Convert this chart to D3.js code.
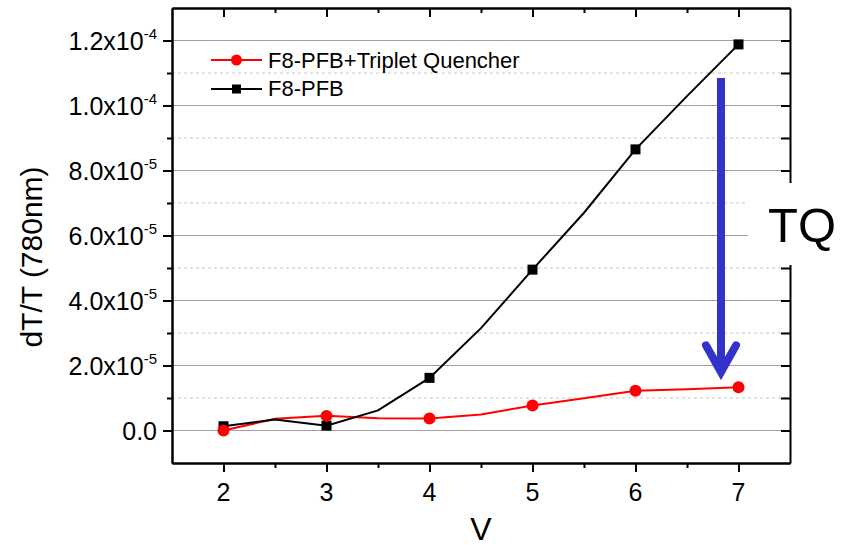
<!DOCTYPE html>
<html>
<head>
<meta charset="utf-8">
<script src="https://cdn.jsdelivr.net/npm/d3@7"></script>
<style>
  html, body { margin: 0; padding: 0; background: #fff; }
  svg { display: block; }
  text { font-family: "Liberation Sans", Arial, sans-serif; fill: #000; }
</style>
</head>
<body>
<svg id="chart" width="845" height="548"></svg>
<script>
// Applied voltage (V), sampled every 0.5 V; markers only on whole volts
const voltage = [2, 2.5, 3, 3.5, 4, 4.5, 5, 5.5, 6, 6.5, 7];
// dT/T at 780 nm
const pfb = [1.3e-6, 3.4e-6, 1.5e-6, 6.2e-6, 1.62e-5, 3.15e-5, 4.95e-5, 6.7e-5, 8.65e-5, 1.029e-4, 1.188e-4];
const pfbTQ = [0.0, 3.6e-6, 4.5e-6, 3.8e-6, 3.7e-6, 4.9e-6, 7.7e-6, 9.9e-6, 1.22e-5, 1.27e-5, 1.33e-5];

const seriesNames = ["F8-PFB+Triplet Quencher", "F8-PFB"];
const xTickValues = [2, 3, 4, 5, 6, 7];
const xTickLabels = ["2", "3", "4", "5", "6", "7"];
const yTickValues = [0, 2e-5, 4e-5, 6e-5, 8e-5, 1.0e-4, 1.2e-4];
const yTickLabels = ["0.0", "2.0x10^-5", "4.0x10^-5", "6.0x10^-5", "8.0x10^-5", "1.0x10^-4", "1.2x10^-4"];
const yMinorValues = [-1e-5, 1e-5, 3e-5, 5e-5, 7e-5, 9e-5, 1.1e-4, 1.3e-4];
const xMinorValues = [1.5, 2.5, 3.5, 4.5, 5.5, 6.5, 7.5];

const svg = d3.select("#chart");
const L = 172, R = 790, T = 8, B = 463;

const x = d3.scaleLinear().domain([1.5, 7.5]).range([L, R]);
const y = d3.scaleLinear().domain([-1e-5, 1.3e-4]).range([B, T]);

// grid: solid at labelled values, dashed in between
const grid = svg.append("g");
grid.selectAll("line.major").data(yTickValues).join("line")
  .attr("x1", L).attr("x2", R)
  .attr("y1", d => y(d)).attr("y2", d => y(d))
  .attr("stroke", "#a0a0a0").attr("stroke-width", 1.2);
grid.selectAll("line.minor").data(yMinorValues.filter(v => v > -1e-5 && v < 1.3e-4)).join("line")
  .attr("x1", L).attr("x2", R)
  .attr("y1", d => y(d)).attr("y2", d => y(d))
  .attr("stroke", "#c8c8c8").attr("stroke-width", 1)
  .attr("stroke-dasharray", "3,3");

// axes
function styleAxis(g) {
  g.selectAll("path.domain").attr("stroke", "#000").attr("stroke-width", 2);
  g.selectAll(".tick line").attr("stroke", "#000").attr("stroke-width", 2);
  g.selectAll(".tick text").remove();
}
svg.append("g").attr("transform", `translate(0,${B})`)
  .call(d3.axisBottom(x).tickValues(xTickValues).tickSize(9).tickSizeOuter(0)).call(styleAxis);
svg.append("g").attr("transform", `translate(0,${B})`)
  .call(d3.axisBottom(x).tickValues(xMinorValues.slice(1, -1)).tickSize(5).tickSizeOuter(0)).call(styleAxis);
svg.append("g").attr("transform", `translate(0,${T})`)
  .call(d3.axisBottom(x).tickValues(xTickValues).tickSize(9).tickSizeOuter(0)).call(styleAxis);
svg.append("g").attr("transform", `translate(0,${T})`)
  .call(d3.axisBottom(x).tickValues(xMinorValues.slice(1, -1)).tickSize(5).tickSizeOuter(0)).call(styleAxis);
svg.append("g").attr("transform", `translate(${L},0)`)
  .call(d3.axisLeft(y).tickValues(yTickValues).tickSize(9).tickSizeOuter(0)).call(styleAxis);
svg.append("g").attr("transform", `translate(${L},0)`)
  .call(d3.axisLeft(y).tickValues(yMinorValues.slice(1, -1)).tickSize(5).tickSizeOuter(0)).call(styleAxis);
svg.append("g").attr("transform", `translate(${R},0)`)
  .call(d3.axisLeft(y).tickValues(yTickValues.concat(yMinorValues.slice(1, -1))).tickSize(9).tickSizeOuter(0)).call(styleAxis);

// tick labels
svg.append("g").selectAll("text").data(xTickValues).join("text")
  .attr("x", d => x(d)).attr("y", B + 38)
  .attr("text-anchor", "middle").attr("font-size", 25)
  .text((d, i) => xTickLabels[i]);

const yl = svg.append("g").selectAll("text").data(yTickValues).join("text")
  .attr("x", L - 15).attr("y", d => y(d) + 9)
  .attr("text-anchor", "end").attr("font-size", 25);
yl.each(function (d, i) {
  const parts = yTickLabels[i].split("^");
  const t = d3.select(this);
  if (parts.length === 1) {
    t.text(parts[0]);
  } else {
    t.append("tspan").text(parts[0]);
    t.append("tspan").attr("font-size", 15).attr("dy", -11).text(parts[1]);
  }
});

// axis titles
svg.append("text").attr("x", (L + R) / 2).attr("y", 540)
  .attr("text-anchor", "middle").attr("font-size", 32).text("V");
svg.append("text").attr("transform", "translate(42,257) rotate(-90)")
  .attr("text-anchor", "middle").attr("font-size", 30).text("dT/T (780nm)");

// series
const line = d3.line().x(d => x(d[0])).y(d => y(d[1]));
const pfbPts = voltage.map((v, i) => [v, pfb[i]]);
const tqPts = voltage.map((v, i) => [v, pfbTQ[i]]);

svg.append("path").datum(tqPts).attr("d", line)
  .attr("fill", "none").attr("stroke", "#ff0000").attr("stroke-width", 2);
svg.append("path").datum(pfbPts).attr("d", line)
  .attr("fill", "none").attr("stroke", "#000").attr("stroke-width", 2);

svg.append("g").selectAll("rect").data(pfbPts.filter(d => Number.isInteger(d[0]))).join("rect")
  .attr("x", d => x(d[0]) - 5).attr("y", d => y(d[1]) - 5)
  .attr("width", 10).attr("height", 10).attr("fill", "#000");
svg.append("g").selectAll("circle").data(tqPts.filter(d => Number.isInteger(d[0]))).join("circle")
  .attr("cx", d => x(d[0])).attr("cy", d => y(d[1])).attr("r", 6)
  .attr("fill", "#ff0000");

// legend
const lg = svg.append("g");
lg.append("line").attr("x1", 211).attr("x2", 262).attr("y1", 60).attr("y2", 60)
  .attr("stroke", "#ff0000").attr("stroke-width", 2);
lg.append("circle").attr("cx", 236.5).attr("cy", 60).attr("r", 5.5).attr("fill", "#ff0000");
lg.append("text").attr("x", 268).attr("y", 67.5).attr("font-size", 22).text(seriesNames[0]);
lg.append("line").attr("x1", 211).attr("x2", 262).attr("y1", 89).attr("y2", 89)
  .attr("stroke", "#000").attr("stroke-width", 2);
lg.append("rect").attr("x", 232).attr("y", 84.5).attr("width", 9).attr("height", 9).attr("fill", "#000");
lg.append("text").attr("x", 268).attr("y", 96).attr("font-size", 22).text(seriesNames[1]);

// quenching arrow
const ax = x(6.83);
const arrow = svg.append("g").attr("stroke", "#3333cc").attr("fill", "none").attr("stroke-width", 8);
arrow.append("line").attr("x1", ax).attr("x2", ax).attr("y1", y(1.085e-4)).attr("y2", y(1.9e-5));
arrow.append("polyline")
  .attr("points", `${ax - 15},${y(2.62e-5)} ${ax},${y(1.8e-5)} ${ax + 15},${y(2.62e-5)}`)
  .attr("stroke-linecap", "round").attr("stroke-linejoin", "miter");

// TQ label on a white patch
svg.append("rect").attr("x", 748).attr("y", 183).attr("width", 97).attr("height", 82).attr("fill", "#fff");
svg.append("text").attr("x", 768).attr("y", 242).attr("font-size", 49).text("TQ");
</script>
</body>
</html>
